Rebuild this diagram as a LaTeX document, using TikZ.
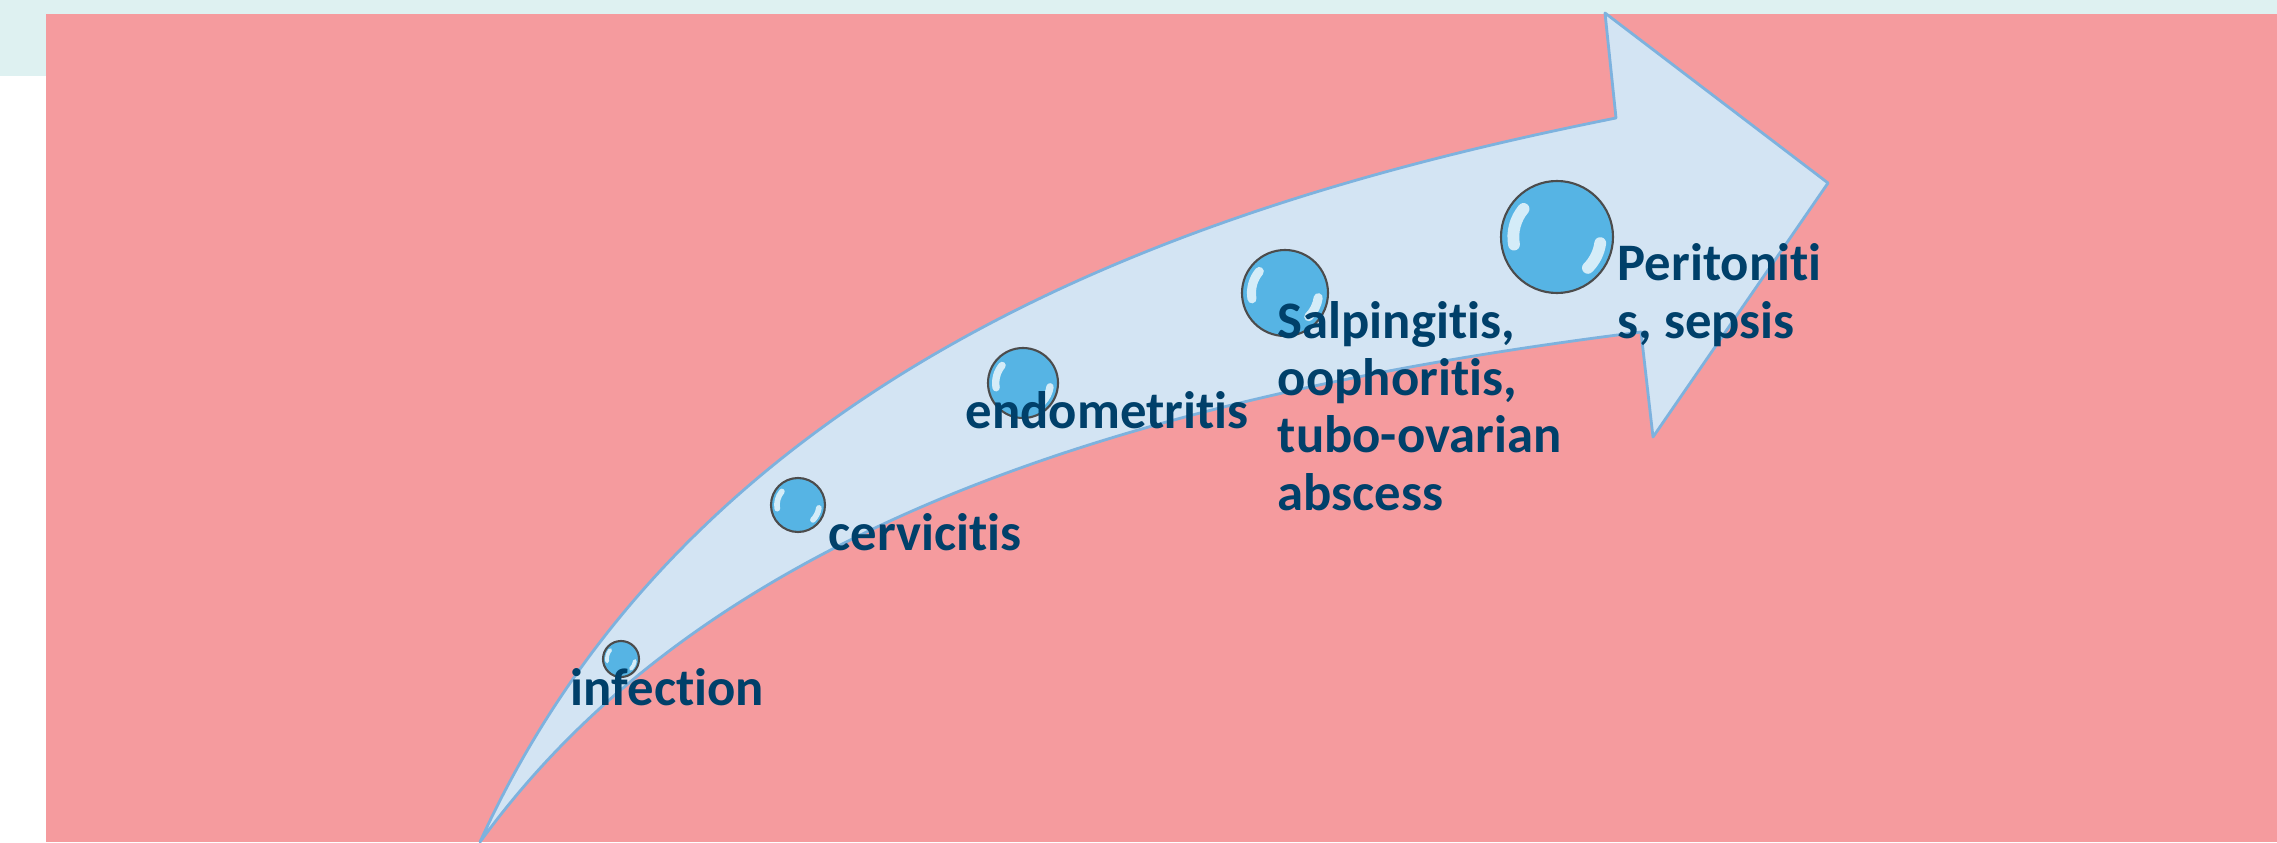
\documentclass[tikz,border=0pt]{standalone}
\usepackage{fontspec}
\setmainfont{Carlito}[Ligatures=NoCommon]
\definecolor{bgpink}{RGB}{245,155,158}
\definecolor{bgcyan}{RGB}{222,241,241}
\definecolor{arrowfill}{RGB}{211,228,243}
\definecolor{arrowline}{RGB}{125,178,222}
\definecolor{beadblue}{RGB}{86,180,228}
\definecolor{labelblue}{RGB}{0,64,106}

\begin{document}
\begin{tikzpicture}[
      bead/.style={circle,draw=black!70,fill=beadblue,line width=0.6pt,inner sep=0pt},
      glint/.style={white,opacity=0.75,line cap=round},
      stage/.style={anchor=base west,inner sep=0pt,align=left,text=labelblue,
                    font=\bfseries\fontsize{15}{16.3}\selectfont}]
    \useasboundingbox (0,0) rectangle (22.77,8.42);
    \fill[white] (0,0) rectangle (22.77,8.42);
    \fill[bgcyan] (0,7.66) rectangle (0.46,8.42);
    \fill[bgcyan] (0,8.28) rectangle (22.77,8.42);
    \fill[bgpink] (0.46,0) rectangle (22.77,8.28);
    % curved arrow
    \filldraw[fill=arrowfill,draw=arrowline,line width=0.8pt,line join=round]
      (4.80,0) .. controls (7.0,4.84) and (12.16,6.44) .. (16.16,7.24)
      -- (16.05,8.29) -- (18.28,6.59) -- (16.53,4.05) -- (16.41,5.10)
      .. controls (11.2,4.45) and (7.05,3.10) .. (4.80,0) -- cycle;
    % beads
    \foreach \n/\x/\y/\r in {b1/6.21/1.83/0.18, b2/7.98/3.37/0.27, b3/10.23/4.59/0.35,
                             b4/12.85/5.49/0.43, b5/15.57/6.05/0.56} {
      \node[bead,minimum size=2*\r*1cm] (\n) at (\x,\y) {};
      \draw[glint,line width=\r*6pt] ([shift={(140:0.78*\r)}]\n.center)
        arc[start angle=140,end angle=190,radius=0.78*\r];
      \draw[glint,line width=\r*6pt] ([shift={(-8:0.78*\r)}]\n.center)
        arc[start angle=-8,end angle=-45,radius=0.78*\r];
    }
    % labels
    \node[stage] (infect) at (5.70,1.37) {infection};
    \node[stage] (cerv) at (8.28,2.92) {cervicitis};
    \node[stage] (endo) at (9.65,4.14) {endometritis};
    \node[stage] (salp) at (12.77,3.32) {Salpingitis,\\oophoritis,\\tubo-ovarian\\abscess};
    \node[stage] (perit) at (16.17,5.04) {Peritoniti\\s, sepsis};
  \end{tikzpicture}
\end{document}
